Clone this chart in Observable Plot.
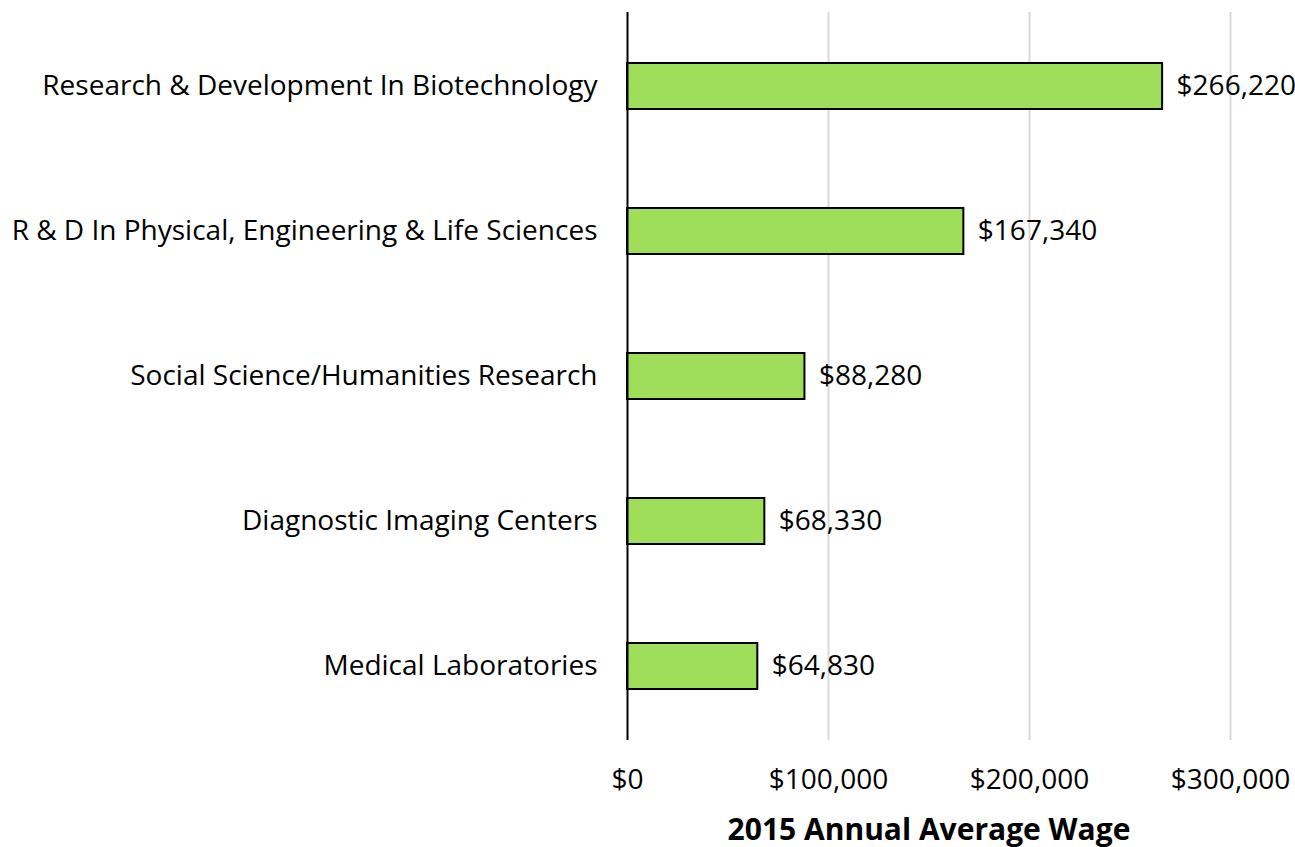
<!DOCTYPE html>
<html>
<head>
<meta charset="utf-8">
<script src="https://cdn.jsdelivr.net/npm/d3@7"></script>
<script src="https://cdn.jsdelivr.net/npm/@observablehq/plot@0.6"></script>
<style>
  html, body { margin: 0; padding: 0; background: #fff; overflow: hidden; }
  svg { font-family: "Open Sans", sans-serif; }
</style>
</head>
<body>
<div id="chart"></div>
<script>
const categories = [
  "Research & Development In Biotechnology",
  "R & D In Physical, Engineering & Life Sciences",
  "Social Science/Humanities Research",
  "Diagnostic Imaging Centers",
  "Medical Laboratories"
];
const wages = [266220, 167340, 88280, 68330, 64830];
const xTicks = [0, 100000, 200000, 300000];
const gridTicks = [100000, 200000, 300000];
const axisTitle = "2015 Annual Average Wage";

const data = categories.map((c, i) => ({category: c, wage: wages[i]}));
const fmt = d3.format("$,");

const chart = Plot.plot({
  width: 1295,
  height: 847,
  marginLeft: 627,
  marginRight: 65,
  marginTop: 12,
  marginBottom: 107,
  style: {fontFamily: "Open Sans, sans-serif", color: "#000", background: "#fff", overflow: "hidden"},
  x: {domain: [0, 300000], ticks: xTicks, tickFormat: fmt},
  y: {domain: categories, paddingInner: 0.684, paddingOuter: 0.342},
  marks: [
    Plot.gridX(gridTicks, {stroke: "#d9d9d9", strokeOpacity: 1, strokeWidth: 2}),
    Plot.axisX({ticks: xTicks, tickFormat: fmt, tickSize: 0, tickPadding: 29, fontSize: 28, label: null}),
    Plot.axisY({tickSize: 0, tickPadding: 30, fontSize: 28, label: null}),
    Plot.barX(data, {x: "wage", y: "category", fill: "#9fde5a", stroke: "#000", strokeWidth: 2}),
    Plot.ruleX([0], {stroke: "#000", strokeWidth: 2}),
    Plot.text(data, {x: "wage", y: "category", text: d => fmt(d.wage), dx: 14, textAnchor: "start", fontSize: 28, fill: "#000"}),
    Plot.text([axisTitle], {frameAnchor: "bottom", dy: 99, fontSize: 30, fontWeight: "bold", fill: "#000"})
  ]
});
document.getElementById("chart").appendChild(chart);
</script>
</body>
</html>
